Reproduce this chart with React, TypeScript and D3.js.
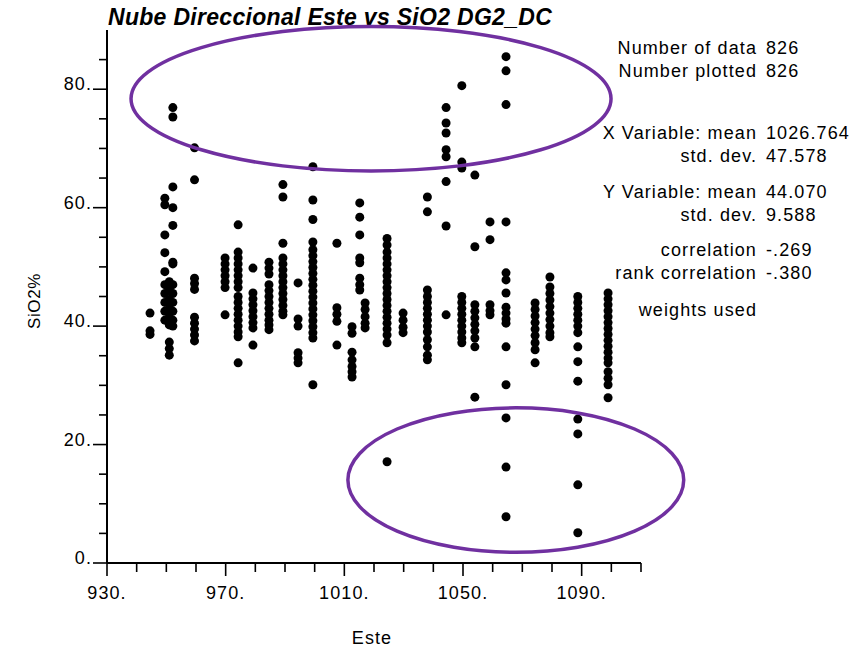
import React from "react";
import * as d3 from "d3";

// Column positions (Este) and SiO2 values
const esteColumns = [
  944.5, 949.5, 951, 952.2, 959.5, 969.8, 974.2, 979.2, 984.6, 989.3,
  994.4, 999.4, 1007.5, 1012.6, 1015.2, 1017, 1024.4, 1029.8, 1038, 1044.3,
  1049.6, 1054, 1059.1, 1064.5, 1074.3, 1079.3, 1088.7, 1098.9,
];

const sio2Columns: number[][] = [
  [42.2, 39.2, 38.6],
  [61.6, 60.5, 55.4, 52.4, 49.2, 47.0, 45.5, 44.0, 42.5, 41.0],
  [47.5, 46.0, 44.5, 43.0, 41.5, 40.2, 37.3, 36.2, 35.1],
  [76.9, 75.3, 63.5, 60.0, 57.0, 50.8, 50.5, 47.0, 45.5, 44.0, 42.5, 41.0, 40.0],
  [70.1, 64.7, 48.1, 47.2, 46.2, 41.5, 40.5, 39.5, 38.5, 37.5],
  [51.5, 50.5, 49.5, 48.5, 47.5, 46.5, 41.9],
  [57.1, 52.5, 51.5, 50.5, 49.5, 48.5, 47.5, 46.5, 45.0, 44.0, 43.0, 42.0, 41.0, 40.0, 39.0, 38.2, 33.8],
  [49.8, 45.6, 44.6, 43.6, 42.6, 41.6, 40.6, 39.7, 36.8],
  [50.8, 49.8, 48.8, 47.0, 46.0, 45.0, 44.0, 43.0, 42.0, 41.0, 40.2, 39.4],
  [63.9, 61.8, 54.0, 51.5, 50.5, 49.5, 48.5, 47.5, 46.5, 45.5, 44.5, 43.5, 42.5, 41.9],
  [47.3, 41.2, 40.0, 35.5, 34.6, 33.8],
  [66.9, 61.3, 58.0, 54.2, 52.9, 51.9, 50.9, 49.9, 48.9, 47.9, 46.9, 45.9, 44.9, 43.9, 42.9, 41.9, 40.9, 39.9, 38.9, 38.0, 30.1],
  [54.0, 43.1, 42.0, 40.8, 36.8],
  [39.9, 38.8, 35.6, 34.3, 33.2, 32.3, 31.4],
  [60.8, 58.4, 55.4, 51.5, 50.7, 48.1, 47.0, 46.1],
  [43.9, 42.8, 41.6, 40.5, 39.7],
  [54.8, 53.7, 52.5, 51.5, 50.5, 49.5, 48.5, 47.5, 46.5, 45.5, 44.5, 43.5, 42.5, 41.5, 40.5, 39.5, 38.5, 37.2, 17.1],
  [42.2, 41.0, 39.8, 38.9],
  [61.8, 59.3, 46.1, 45.0, 44.0, 43.0, 42.0, 41.0, 40.0, 39.0, 37.7, 36.5, 35.1, 34.3],
  [76.9, 74.3, 72.6, 69.8, 68.6, 64.4, 56.9, 41.9],
  [80.6, 67.7, 66.7, 45.0, 44.0, 43.0, 42.0, 41.0, 40.0, 39.0, 38.0, 37.2],
  [65.5, 53.4, 43.6, 42.5, 41.4, 40.3, 39.2, 38.0, 36.5, 28.0],
  [57.6, 54.6, 43.6, 42.6, 41.9],
  [85.5, 83.1, 77.4, 57.6, 49.0, 47.8, 45.6, 43.2, 42.2, 41.2, 40.5, 36.5, 30.1, 24.5, 16.2, 7.8],
  [43.9, 42.8, 41.7, 40.6, 39.5, 38.4, 37.2, 36.0, 33.8],
  [48.3, 46.6, 45.5, 44.4, 43.3, 42.2, 41.1, 40.0, 38.9, 38.2],
  [45.0, 44.0, 43.0, 42.0, 41.0, 40.0, 38.9, 36.5, 34.0, 30.7, 24.3, 21.8, 13.2, 5.1],
  [45.6, 44.6, 43.6, 42.6, 41.6, 40.6, 39.6, 38.6, 37.6, 36.6, 35.6, 34.6, 33.8, 32.3, 31.2, 30.1, 27.9],
];

const xMajorTicks = [930, 970, 1010, 1050, 1090];
const yMajorTicks = [0, 20, 40, 60, 80];

const statLabels = [
  "Number of data", "Number plotted",
  "X Variable: mean", "std. dev.",
  "Y Variable: mean", "std. dev.",
  "correlation", "rank correlation",
  "weights used",
];
const statValues = ["826", "826", "1026.764", "47.578", "44.070", "9.588", "-.269", "-.380", ""];
const statBaselines = [54, 77, 139, 162, 198, 221, 256, 279, 316];

// Highlight ellipses in data units: [centre Este, centre SiO2, half-width Este, half-height SiO2]
const highlightEllipses = [
  [1019.0, 78.4, 80.9, 12.2],
  [1067.8, 14.0, 56.6, 12.2],
];

const W = 856;
const H = 649;
const FONT = "'Liberation Sans', Arial, Helvetica, sans-serif";

export default function App() {
  const x = d3.scaleLinear().domain([930, 1110]).range([107, 641]);
  const y = d3.scaleLinear().domain([0, 90]).range([563, 30]);

  const xTicks = d3.range(930, 1111, 10);
  const yTicks = d3.range(0, 86, 5);

  const points: { cx: number; cy: number; key: string }[] = [];
  esteColumns.forEach((e, i) => {
    sio2Columns[i].forEach((v, j) => {
      points.push({ cx: x(e), cy: y(v), key: `${i}-${j}` });
    });
  });

  return (
    <svg
      width={W}
      height={H}
      style={{ position: "absolute", left: 0, top: 0, background: "#fff" }}
      fontFamily={FONT}
    >
      <rect x={0} y={0} width={W} height={H} fill="#fff" />
      {/* title */}
      <text x={108} y={25} fontSize={23} fontWeight="bold" fontStyle="italic" fill="#000" letterSpacing={0.3}>
        Nube Direccional Este vs SiO2 DG2_DC
      </text>

      {/* points */}
      <g fill="#000">
        {points.map((p) => (
          <circle key={p.key} cx={p.cx} cy={p.cy} r={4.5} />
        ))}
      </g>

      {/* axes */}
      <g stroke="#000" fill="none">
        <line x1={x(930)} y1={y(0)} x2={x(930)} y2={y(90)} strokeWidth={2} />
        <line x1={x(930)} y1={y(0)} x2={x(1110)} y2={y(0)} strokeWidth={2} />
        {yTicks.map((t) => {
          const major = t % 20 === 0;
          return (
            <line
              key={"yt" + t}
              x1={x(930) - (major ? 14 : 8)}
              x2={x(930)}
              y1={y(t)}
              y2={y(t)}
              strokeWidth={1.6}
            />
          );
        })}
        {xTicks.map((t) => {
          const major = xMajorTicks.includes(t);
          return (
            <line
              key={"xt" + t}
              x1={x(t)}
              x2={x(t)}
              y1={y(0)}
              y2={y(0) + (major ? 13 : 9)}
              strokeWidth={1.6}
            />
          );
        })}
      </g>

      <g fontSize={18} fill="#000" letterSpacing={1.1}>
        {yMajorTicks.map((t) => (
          <text key={"yl" + t} x={x(930) - 15} y={y(t) + 1} textAnchor="end">
            {t + "."}
          </text>
        ))}
        {xMajorTicks.map((t) => (
          <text key={"xl" + t} x={x(t)} y={599} textAnchor="middle">
            {t + "."}
          </text>
        ))}
        <text x={372} y={644} textAnchor="middle">
          Este
        </text>
        <text transform="translate(40,301) rotate(-90)" textAnchor="middle" fontSize={17} letterSpacing={0.6}>
          SiO2%
        </text>
      </g>

      {/* statistics */}
      <g fontSize={18} fill="#000" letterSpacing={1.1}>
        {statLabels.map((s, i) => (
          <text key={"sl" + i} x={757} y={statBaselines[i]} textAnchor="end">
            {s}
          </text>
        ))}
        {statValues.map((s, i) => (
          <text key={"sv" + i} x={766} y={statBaselines[i]} textAnchor="start">
            {s}
          </text>
        ))}
      </g>

      {/* highlight ellipses */}
      <g fill="none" stroke="#7030A0" strokeWidth={3.5}>
        {highlightEllipses.map((e, i) => (
          <ellipse
            key={"el" + i}
            cx={x(e[0])}
            cy={y(e[1])}
            rx={x(e[0] + e[2]) - x(e[0])}
            ry={y(0) - y(e[3])}
          />
        ))}
      </g>
    </svg>
  );
}
